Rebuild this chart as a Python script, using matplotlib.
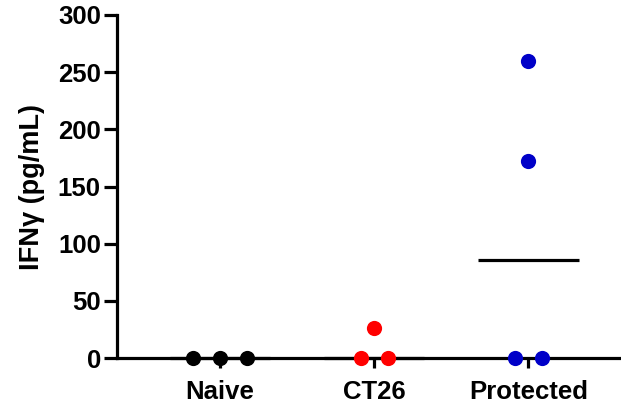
import matplotlib
matplotlib.use("Agg")
import matplotlib.pyplot as plt
import numpy as np

plt.rcParams['font.family'] = ['Liberation Sans', 'DejaVu Sans']
plt.rcParams['font.weight'] = 'bold'

categories = ["Naive", "CT26", "Protected"]
naive_vals = [0, 0, 0]
ct26_vals = [0, 0, 26]
protected_vals = [0, 0, 172, 260]
group_values = [naive_vals, ct26_vals, protected_vals]
colors = ["#000000", "#FF0000", "#0000C8"]
yticks = [0, 50, 100, 150, 200, 250, 300]

fig = plt.figure(figsize=(6.21, 4.05), dpi=100)
ax = fig.add_axes([0.188, 0.116, 0.812, 0.847])

step = 0.175
for i, (vals, c) in enumerate(zip(group_values, colors)):
    vals = np.asarray(vals, dtype=float)
    xs = np.full(len(vals), float(i))
    for v in np.unique(vals):
        idx = np.where(vals == v)[0]
        n = len(idx)
        offs = (np.arange(n) - (n - 1) / 2) * step
        xs[idx] = i + offs
    ax.scatter(xs, vals, s=120, color=c, zorder=3, clip_on=False, linewidths=0)
    med = np.median(vals)
    ax.plot([i - 0.325, i + 0.325], [med, med], color='black', lw=2.3,
            solid_capstyle='butt', zorder=2, clip_on=False)

ax.set_xlim(-0.667, 2.6)
ax.set_ylim(0, 300)
ax.set_yticks(yticks)
ax.set_xticks(range(len(categories)))
ax.set_xticklabels(categories)
for s in ['top', 'right']:
    ax.spines[s].set_visible(False)
for s in ['left', 'bottom']:
    ax.spines[s].set_linewidth(2.3)
ax.tick_params(axis='y', length=9.5, width=2.3, labelsize=18.5, pad=2)
ax.tick_params(axis='x', length=7, width=2.3, labelsize=18.5, pad=8.5)
for lab in ax.get_xticklabels() + ax.get_yticklabels():
    lab.set_fontweight('bold')
ax.set_ylabel("IFNγ (pg/mL)", fontsize=19.5, fontweight='bold', labelpad=9)

fig.savefig("out.png", dpi=100)
